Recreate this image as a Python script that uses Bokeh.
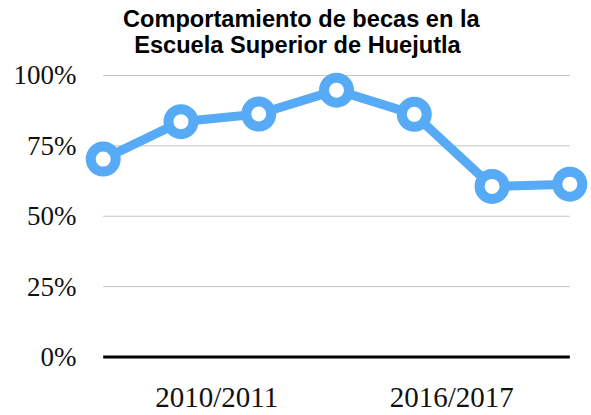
from bokeh.plotting import figure
from bokeh.models import FixedTicker, PrintfTickFormatter, Label, Range1d, ColumnDataSource
from bokeh.embed import file_html
from bokeh.resources import INLINE

# ---- data ----
categories = ["2010/2011", "2011/2012", "2012/2013", "2013/2014",
              "2014/2015", "2015/2016", "2016/2017"]
becas_pct = [70.3, 83.6, 86.3, 94.8, 86.2, 60.6, 61.4]
y_ticks = [0, 25, 50, 75, 100]
x_tick_pos = [1.459, 4.482]
x_tick_labels = ["2010/2011", "2016/2017"]
title_lines = ["Comportamiento de becas en la", "Escuela Superior de Huejutla"]

BLUE = "#56AAF6"
x = list(range(len(categories)))

p = figure(width=590, height=415, output_backend="svg", toolbar_location=None,
           x_range=Range1d(-0.2919, 6.266), y_range=Range1d(-8, 126.64),
           min_border_left=80, min_border_right=0, min_border_top=0,
           min_border_bottom=34, outline_line_color=None)
p.grid.visible = False

# grid lines (from first to last category)
grid_y = [t for t in y_ticks if t != 0]
p.segment(x0=[x[0]] * len(grid_y), x1=[x[-1]] * len(grid_y), y0=grid_y, y1=grid_y,
          line_color="#C4C4C4", line_width=1)
# base line at 0%
p.segment(x0=[x[0]], x1=[x[-1]], y0=[y_ticks[0]], y1=[y_ticks[0]],
          line_color="black", line_width=3)

src = ColumnDataSource(dict(x=x, y=becas_pct, cat=categories))
p.line("x", "y", source=src, line_color=BLUE, line_width=9, line_join="round")
p.scatter("x", "y", source=src, size=25, fill_color="white",
          line_color=BLUE, line_width=10)

# axes
for ax in (p.xaxis, p.yaxis):
    ax.axis_line_color = None
    ax.major_tick_line_color = None
    ax.minor_tick_line_color = None
    ax.major_tick_out = 0
    ax.major_tick_in = 0
    ax.minor_tick_out = 0
    ax.axis_label_standoff = 0
    ax.major_label_text_font = "Liberation Serif"
    ax.major_label_text_color = "#111111"

p.yaxis.ticker = FixedTicker(ticks=y_ticks)
p.yaxis.formatter = PrintfTickFormatter(format="%d%%")
p.yaxis.major_label_standoff = 4
p.yaxis.major_label_text_font_size = "27px"

p.xaxis.ticker = FixedTicker(ticks=x_tick_pos)
p.xaxis.major_label_overrides = {x_tick_pos[i]: x_tick_labels[i] for i in range(len(x_tick_pos))}
p.xaxis.major_label_standoff = 1
p.xaxis.major_label_text_font_size = "29px"

# title
for txt, ty, tx in [(title_lines[0], 120.02, 2.547), (title_lines[1], 110.72, 2.498)]:
    p.add_layout(Label(x=tx, y=ty, text=txt, text_align="center",
                       text_baseline="alphabetic", text_font="Liberation Sans",
                       text_font_style="bold", text_font_size="23.6px",
                       text_color="black"))

open("out.html", "w").write(file_html(p, INLINE))
